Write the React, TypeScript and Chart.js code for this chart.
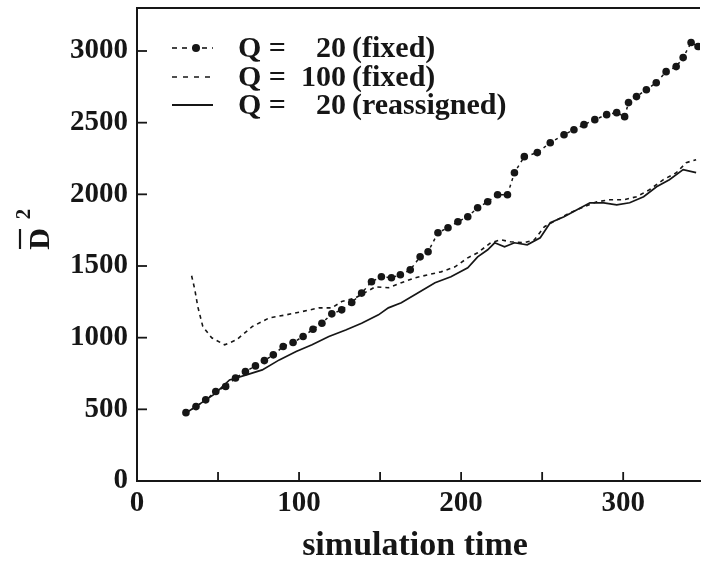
import React, { useEffect, useRef } from "react";
import { Chart, registerables } from "chart.js";

Chart.register(...registerables);

// Q = 20 (fixed)
const q20FixedX = [30.2, 36.4, 42.4, 48.6, 54.7, 60.8, 66.9, 73.1, 78.6, 84.1, 90.2, 96.3, 102.5, 108.6, 114.1, 120.2, 126.3, 132.5, 138.6, 144.7, 150.8, 157.0, 162.5, 168.6, 174.7, 179.6, 185.7, 191.9, 198.0, 204.1, 210.2, 216.4, 222.5, 228.6, 232.9, 239.0, 247.0, 255.0, 263.5, 269.6, 275.8, 282.5, 289.8, 296.0, 300.9, 303.3, 308.2, 314.3, 320.4, 326.5, 332.7, 337.0, 341.9, 346.2];
const q20FixedY = [477, 519, 566, 624, 659, 719, 763, 803, 840, 880, 938, 966, 1008, 1059, 1101, 1166, 1194, 1245, 1311, 1390, 1425, 1418, 1439, 1473, 1564, 1599, 1732, 1767, 1809, 1844, 1906, 1948, 1997, 1997, 2151, 2263, 2291, 2360, 2416, 2451, 2486, 2521, 2556, 2570, 2542, 2640, 2682, 2730, 2779, 2856, 2891, 2954, 3059, 3031];

// Q = 100 (fixed)
const q100FixedX = [33.7, 35.7, 37.5, 40.6, 46.1, 54.1, 61.4, 71.2, 81.6, 92.0, 101.9, 112.3, 120.2, 126.3, 134.9, 147.1, 155.1, 163.1, 171.7, 179.6, 187.6, 196.2, 204.1, 210.2, 218.2, 224.3, 230.4, 239.0, 245.2, 251.4, 259.3, 267.3, 275.8, 283.8, 291.7, 300.3, 308.2, 316.2, 324.8, 332.8, 338.9, 345.0];
const q100FixedY = [1432, 1334, 1217, 1078, 999, 950, 985, 1078, 1138, 1159, 1182, 1208, 1208, 1252, 1278, 1355, 1348, 1383, 1418, 1439, 1459, 1494, 1557, 1592, 1662, 1683, 1669, 1662, 1683, 1774, 1823, 1872, 1913, 1948, 1962, 1962, 1983, 2032, 2102, 2151, 2221, 2242];

// Q = 20 (reassigned)
const q20ReassignedX = [30.2, 38.8, 48.0, 57.1, 67.5, 77.3, 87.8, 98.2, 108.0, 118.4, 128.8, 138.6, 149.0, 155.1, 163.1, 173.5, 183.9, 193.7, 204.1, 210.2, 216.4, 220.7, 226.8, 232.9, 240.8, 248.8, 255.0, 263.5, 271.5, 279.5, 288.0, 296.0, 304.0, 312.6, 320.6, 328.5, 337.0, 345.0];
const q20ReassignedY = [475, 538, 608, 705, 740, 775, 845, 903, 950, 1008, 1054, 1101, 1159, 1208, 1243, 1313, 1383, 1425, 1487, 1564, 1613, 1662, 1634, 1662, 1648, 1697, 1802, 1844, 1892, 1941, 1941, 1927, 1941, 1983, 2053, 2102, 2172, 2151];

const xTickLabels = [0, 100, 200, 300];
const xMinorTicks = [50, 100, 150, 200, 250, 300];
const yTickLabels = [0, 500, 1000, 1500, 2000, 2500, 3000];

const legendNumbers = ["20", "100", "20"];
const legendTails = ["(fixed)", "(fixed)", "(reassigned)"];

const INK = "#161616";
const SERIF = "'Liberation Serif', 'Times New Roman', serif";

const toPoints = (xs: number[], ys: number[]) => xs.map((x, i) => ({ x, y: ys[i] }));

const decorPlugin = {
  id: "decor",
  afterDraw(chart: any) {
    const { ctx, chartArea, scales } = chart;
    const xs = scales.x;
    const ys = scales.y;
    ctx.save();
    ctx.strokeStyle = INK;
    ctx.fillStyle = INK;
    // top border
    ctx.lineWidth = 2;
    ctx.beginPath();
    ctx.moveTo(chartArea.left - 1, chartArea.top);
    ctx.lineTo(chartArea.right, chartArea.top);
    ctx.stroke();
    // inside ticks
    ctx.lineWidth = 1.8;
    yTickLabels.forEach((v) => {
      if (v === 0) return;
      const py = ys.getPixelForValue(v);
      ctx.beginPath();
      ctx.moveTo(chartArea.left, py);
      ctx.lineTo(chartArea.left + 10, py);
      ctx.stroke();
    });
    xMinorTicks.forEach((v) => {
      const px = xs.getPixelForValue(v);
      ctx.beginPath();
      ctx.moveTo(px, chartArea.bottom);
      ctx.lineTo(px, chartArea.bottom - 9);
      ctx.stroke();
    });

    // legend
    const rows = [48, 77, 105];
    const x0 = 172;
    const x1 = 213;
    ctx.lineWidth = 1.6;
    ctx.setLineDash([5, 5]);
    ctx.beginPath();
    ctx.moveTo(x0, rows[0]);
    ctx.lineTo(x1, rows[0]);
    ctx.stroke();
    ctx.setLineDash([]);
    ctx.beginPath();
    ctx.arc(196, rows[0], 4, 0, Math.PI * 2);
    ctx.fill();
    ctx.setLineDash([5, 6]);
    ctx.beginPath();
    ctx.moveTo(x0, rows[1]);
    ctx.lineTo(x1, rows[1]);
    ctx.stroke();
    ctx.setLineDash([]);
    ctx.lineWidth = 2;
    ctx.beginPath();
    ctx.moveTo(x0, rows[2]);
    ctx.lineTo(x1, rows[2]);
    ctx.stroke();

    ctx.font = `bold 30px ${SERIF}`;
    ctx.textBaseline = "middle";
    rows.forEach((ry, i) => {
      ctx.textAlign = "left";
      ctx.fillText("Q =", 238, ry + 1);
      ctx.textAlign = "right";
      ctx.fillText(legendNumbers[i], 346, ry + 1);
      ctx.textAlign = "left";
      ctx.fillText(legendTails[i], 352, ry + 1);
    });

    // x axis title
    ctx.font = `bold 34px ${SERIF}`;
    ctx.textAlign = "center";
    ctx.textBaseline = "middle";
    ctx.fillText("simulation time", 415, 546);

    // y axis title: D-bar squared, rotated
    ctx.save();
    ctx.translate(40, 239);
    ctx.rotate(-Math.PI / 2);
    ctx.font = `bold 30px ${SERIF}`;
    ctx.textAlign = "center";
    ctx.textBaseline = "middle";
    ctx.fillText("D", 0, 1);
    ctx.lineWidth = 2.2;
    ctx.beginPath();
    ctx.moveTo(-10, -20);
    ctx.lineTo(10, -20);
    ctx.stroke();
    ctx.font = `bold 21px ${SERIF}`;
    ctx.fillText("2", 25, -15);
    ctx.restore();

    ctx.restore();
  },
};

export default function App() {
  const canvasRef = useRef<HTMLCanvasElement | null>(null);

  useEffect(() => {
    const canvas = canvasRef.current;
    if (!canvas) return;
    const chart = new Chart(canvas, {
      type: "line",
      data: {
        datasets: [
          {
            label: "Q = 20 (fixed)",
            data: toPoints(q20FixedX, q20FixedY),
            borderColor: INK,
            backgroundColor: INK,
            borderWidth: 1.5,
            borderDash: [3, 4],
            pointRadius: 3.8,
            pointBorderWidth: 0,
            pointBackgroundColor: INK,
            tension: 0,
          },
          {
            label: "Q = 100 (fixed)",
            data: toPoints(q100FixedX, q100FixedY),
            borderColor: INK,
            borderWidth: 1.6,
            borderDash: [4, 4],
            pointRadius: 0,
            tension: 0,
          },
          {
            label: "Q = 20 (reassigned)",
            data: toPoints(q20ReassignedX, q20ReassignedY),
            borderColor: INK,
            borderWidth: 1.7,
            pointRadius: 0,
            tension: 0,
          },
        ],
      },
      options: {
        animation: false,
        responsive: false,
        devicePixelRatio: 1,
        layout: { padding: { top: 8, right: 0, left: 0, bottom: 0 } },
        plugins: {
          legend: { display: false },
          tooltip: { enabled: false },
        },
        scales: {
          x: {
            type: "linear",
            min: 0,
            max: 347.4,
            afterBuildTicks: (scale: any) => {
              scale.ticks = xTickLabels.map((v) => ({ value: v }));
            },
            afterFit: (scale: any) => {
              scale.height = 88;
              scale.paddingLeft = 0;
              scale.paddingRight = 0;
            },
            grid: { display: false, drawTicks: false },
            border: { display: true, color: INK, width: 2 },
            ticks: {
              color: INK,
              padding: 5,
              maxRotation: 0,
              autoSkip: false,
              callback: (v: any) => String(v),
              font: { family: SERIF, size: 29, weight: "bold" },
            },
          },
          y: {
            type: "linear",
            min: 0,
            max: 3300,
            afterBuildTicks: (scale: any) => {
              scale.ticks = yTickLabels.map((v) => ({ value: v }));
            },
            afterFit: (scale: any) => {
              scale.width = 137;
              scale.paddingTop = 0;
              scale.paddingBottom = 0;
            },
            grid: { display: false, drawTicks: false },
            border: { display: true, color: INK, width: 2 },
            ticks: {
              color: INK,
              padding: 9,
              autoSkip: false,
              callback: (v: any) => String(v),
              font: { family: SERIF, size: 29, weight: "bold" },
            },
          },
        },
      },
      plugins: [decorPlugin],
    });
    return () => chart.destroy();
  }, []);

  return (
    <div style={{ position: "absolute", left: 0, top: 0, width: 704, height: 569, background: "#fff" }}>
      <canvas ref={canvasRef} width={704} height={569} style={{ display: "block" }} />
    </div>
  );
}
